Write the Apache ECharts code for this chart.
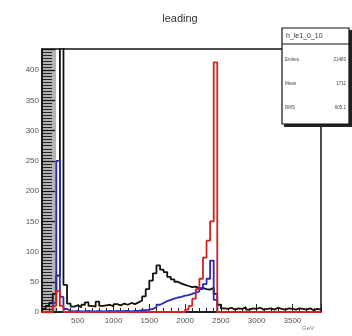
<!DOCTYPE html>
<html>
<head>
<meta charset="utf-8">
<script src="https://cdn.jsdelivr.net/npm/echarts/dist/echarts.min.js"></script>
<style>
  html, body { margin: 0; padding: 0; background: #fff; }
  #chart { width: 352px; height: 336px; }
</style>
</head>
<body>
<div id="chart"></div>
<script>
// Histogram binning: 78 bins of width 50 starting at 0
var binStart = 0;
var binWidth = 50;

// Bin contents, one value per bin (bin i covers [i*50, (i+1)*50) )
var blackCounts = [
  5, 10, 15, 30, 60, 560, 45, 14, 9, 11,
  8, 12, 16, 10, 9, 17, 10, 11, 12, 9,
  13, 11, 14, 12, 15, 13, 16, 19, 26, 38,
  52, 64, 77, 70, 66, 58, 54, 50, 47, 45,
  43, 41, 42, 39, 40, 38, 37, 40, 30, 12,
  6, 5, 7, 4, 6, 5, 8, 4, 6, 5,
  7, 4, 5, 6, 4, 7, 5, 4, 6, 5,
  4, 6, 5, 4, 6, 3, 5, 4
];
var blueCounts = [
  0, 0, 0, 15, 250, 25, 5, 2, 1, 2,
  1, 1, 2, 1, 1, 2, 1, 1, 2, 1,
  2, 1, 2, 2, 1, 2, 2, 3, 3, 4,
  5, 8, 12, 15, 18, 20, 22, 24, 25, 27,
  28, 30, 32, 34, 38, 46, 55, 85, 20, 0,
  0, 0, 0, 0, 0, 0, 0, 0, 0, 0,
  0, 0, 0, 0, 0, 0, 0, 0, 0, 0,
  0, 0, 0, 0, 0, 0, 0, 0
];
var redCounts = [
  0, 0, 0, 10, 35, 10, 0, 0, 0, 0,
  0, 0, 0, 0, 0, 0, 0, 0, 0, 0,
  0, 0, 0, 0, 0, 0, 0, 0, 0, 0,
  0, 0, 0, 0, 0, 0, 0, 0, 0, 0,
  4, 10, 22, 38, 55, 90, 118, 150, 413, 0,
  0, 0, 0, 0, 0, 0, 0, 0, 0, 0,
  0, 0, 0, 0, 0, 0, 0, 0, 0, 0,
  0, 0, 0, 0, 0, 0, 0, 0
];

// Axis ranges and tick labels
var xRange = [0, 3900];
var yRange = [0, 435];
var xTickStep = 500;
var yTickStep = 50;

// Stats box content
var statsTitle = 'h_le1_0_10';
var statsRows = [
  ['Entries', '21483'],
  ['Mean', '1711'],
  ['RMS', '605.1']
];
var plotTitle = 'leading';
var axisTitle = 'GeV';

// Turn bin contents into step-line points at bin lower edges plus the closing edge
function toSteps(counts) {
  var pts = counts.map(function (v, i) { return [binStart + i * binWidth, v]; });
  pts.push([binStart + counts.length * binWidth, counts[counts.length - 1]]);
  return pts;
}

function histSeries(counts, color, z) {
  return {
    type: 'line',
    step: 'end',
    data: toSteps(counts),
    symbol: 'none',
    z: z,
    clip: true,
    lineStyle: { color: color, width: 1.8 },
    animation: false
  };
}

var chart = echarts.init(document.getElementById('chart'), null, { renderer: 'canvas' });

var font = 'Liberation Sans, Arial, sans-serif';
var statsGraphics = [
  { type: 'rect', shape: { x: 284, y: 30, width: 68, height: 97 }, style: { fill: '#222' }, z: 100 },
  { type: 'rect', shape: { x: 282, y: 28, width: 67, height: 96 }, style: { fill: '#fff', stroke: '#111', lineWidth: 1.2 }, z: 101 },
  { type: 'line', shape: { x1: 282, y1: 44, x2: 349, y2: 44 }, style: { stroke: '#111', lineWidth: 1 }, z: 102 },
  { type: 'text', x: 286, y: 36, style: { text: statsTitle, font: '7px ' + font, fill: '#333', textVerticalAlign: 'middle' }, z: 103 }
];
statsRows.forEach(function (row, i) {
  var yy = 60 + i * 24;
  statsGraphics.push({ type: 'text', x: 285, y: yy, style: { text: row[0], font: '4.5px ' + font, fill: '#444', textVerticalAlign: 'middle' }, z: 103 });
  statsGraphics.push({ type: 'text', x: 346, y: yy, style: { text: row[1], font: '4.5px ' + font, fill: '#444', textAlign: 'right', textVerticalAlign: 'middle' }, z: 103 });
});

chart.setOption({
  backgroundColor: '#fff',
  animation: false,
  title: {
    text: plotTitle,
    left: 175,
    top: 8,
    textAlign: 'center',
    textStyle: { fontFamily: font, fontSize: 11, fontWeight: 'normal', color: '#333' }
  },
  grid: {
    left: 42, right: 31, top: 49, bottom: 24,
    show: true, borderColor: '#111', borderWidth: 1.5, backgroundColor: 'transparent'
  },
  xAxis: {
    type: 'value',
    min: xRange[0], max: xRange[1], interval: xTickStep,
    splitLine: { show: false },
    axisLine: { show: true, lineStyle: { color: '#111', width: 1.5 } },
    axisTick: { show: true, inside: true, length: 8, lineStyle: { color: '#222', width: 1 } },
    minorTick: { show: true, splitNumber: 5, length: 4, lineStyle: { color: '#222', width: 1 } },
    axisLabel: {
      showMaxLabel: false,
      fontFamily: font, fontSize: 8, color: '#555', margin: 5,
      formatter: function (v) { return v === 0 ? '' : String(v); }
    }
  },
  yAxis: {
    type: 'value',
    min: yRange[0], max: yRange[1], interval: yTickStep,
    splitLine: { show: false },
    axisLine: { show: true, lineStyle: { color: '#111', width: 1.5 } },
    axisTick: { show: true, inside: true, length: 13, lineStyle: { color: '#111', width: 1.2 } },
    minorTick: { show: true, splitNumber: 10, length: 10, lineStyle: { color: '#222', width: 1 } },
    axisLabel: { showMaxLabel: false, fontFamily: font, fontSize: 8, color: '#555', margin: 3 }
  },
  graphic: [
    { type: 'rect', shape: { x: 42, y: 49, width: 14, height: 263 }, style: { fill: '#b4b4b4' }, z: -1, silent: true },
    { type: 'text', x: 302, y: 328, style: { text: axisTitle, font: '6px ' + font, fill: '#777', textVerticalAlign: 'middle' } }
  ].concat(statsGraphics),
  series: [
    histSeries(blackCounts, '#111111', 2),
    histSeries(blueCounts, '#2a2ab8', 3),
    histSeries(redCounts, '#d42222', 4)
  ]
});
</script>
</body>
</html>
